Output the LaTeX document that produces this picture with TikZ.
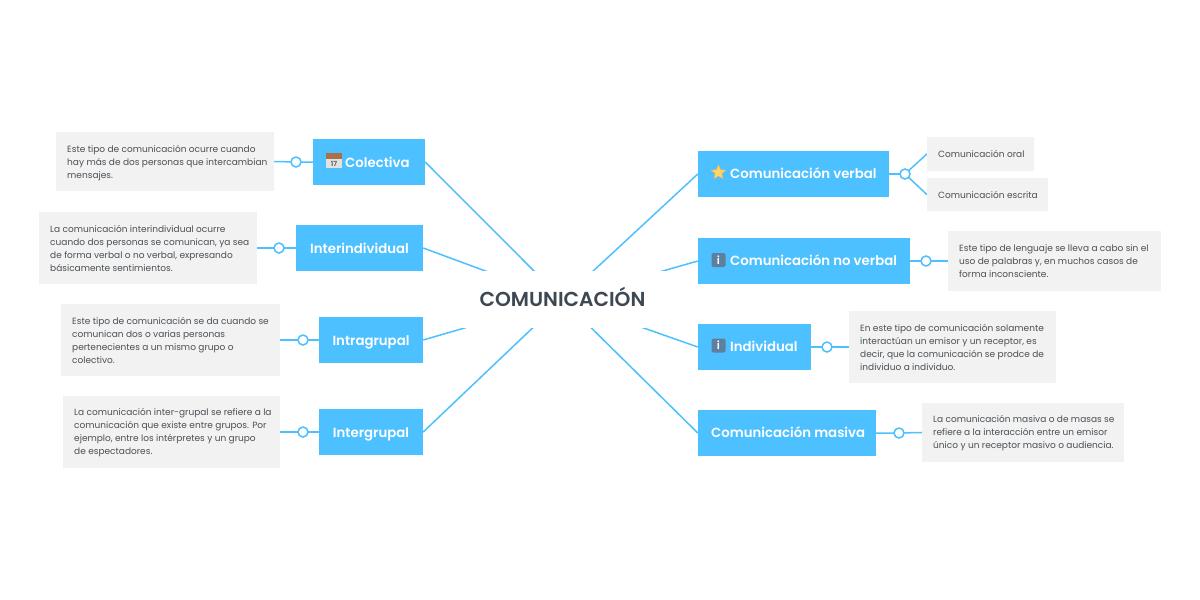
\documentclass[tikz,border=0pt]{standalone}
\usepackage{fontspec}
\setmainfont{Poppins}[BoldFont={Poppins SemiBold}]
\usetikzlibrary{shapes.geometric}
\definecolor{topic}{HTML}{4DC0FF}
\definecolor{note}{HTML}{F2F2F2}
\definecolor{ink}{HTML}{4A5055}
\definecolor{title}{HTML}{3D4852}
\definecolor{infoicon}{HTML}{5F7F9F}
\definecolor{calbody}{HTML}{E4E2DF}
\definecolor{caltop}{HTML}{A9714B}
\definecolor{staricon}{HTML}{FFD75E}
\pgfdeclarelayer{canvas}
\pgfdeclarelayer{lines}
\pgfsetlayers{canvas,lines,main}
\tikzset{
 x=1pt,y=-1pt,
 topicbox/.style={inner sep=0,text=white,anchor=base,font=\fontsize{13.3}{16}\selectfont\bfseries},
 notebox/.style={inner sep=0,text=ink,font=\fontsize{9}{13}\selectfont,align=left,anchor=west},
 link/.style={draw=topic,line width=1.5pt},
 knob/.style={circle,draw=topic,fill=white,line width=1.5pt,minimum size=10pt,inner sep=0},
}
\newcommand{\tbox}[5]{% name x1 y1 x2 y2
 \node[fill=topic,inner sep=0,minimum width={(#4-#2)*1pt},minimum height={(#5-#3)*1pt}] (#1) at ({(#2+#4)/2},{(#3+#5)/2}) {};
}
\newcommand{\nbox}[6][1]{% optional text shift, name x1 y1 x2 y2 text
 \node[fill=note,inner sep=0,minimum width={(#5-#3)*1pt},minimum height={(#6-#4)*1pt}] (#2) at ({(#3+#5)/2},{(#4+#6)/2}) {};
 \nnote{#2}{#3}{#4}{#6}{#1}%
}
\newcommand{\nnote}[5]{\def\nname{#1}\def\nx{#2}\def\ny{#3}\def\nyy{#4}\def\nd{#5}\nnotetext}
\newcommand{\nnotetext}[1]{\node[notebox] (\nname t) at (\nx+11,{(\ny+\nyy)/2+\nd}) {#1};}
\begin{document}
\begin{tikzpicture}
\useasboundingbox (0,0) rectangle (1200,600);
\begin{pgfonlayer}{canvas}
\path[fill=white] (0,0) rectangle (1200,600);
\end{pgfonlayer}
\node[fill=white,minimum width=230pt,minimum height=57pt,inner sep=0] (center) at (562.5,299.5) {};
\node[inner sep=0,anchor=base,text=title,font=\fontsize{20.2}{24}\selectfont\bfseries] (centert) at (562.5,306.5) {COMUNICACIÓN};
% topics
\tbox{col}{313}{139}{425}{185}
\tbox{int}{296}{225}{423}{271}
\tbox{gru}{319}{317}{423}{363}
\tbox{ter}{319}{409}{423}{455}
\tbox{ver}{698}{151}{889}{197}
\tbox{nov}{698}{238}{910}{284}
\tbox{ind}{698}{324}{811}{370}
\tbox{mas}{698}{410}{876}{456}
\node[topicbox,anchor=base west] (colt) at (345,167) {Colectiva};
\node[topicbox] (intt) at (359.5,253) {Interindividual};
\node[topicbox] (grut) at (371,345) {Intragrupal};
\node[topicbox] (tert) at (371,437) {Intergrupal};
\node[topicbox,anchor=base west] (vert) at (730,178.5) {Comunicación verbal};
\node[topicbox,anchor=base west] (novt) at (730,265.5) {Comunicación no verbal};
\node[topicbox,anchor=base west] (indt) at (730,351.5) {Individual};
\node[topicbox,anchor=base west] (mast) at (711,437.5) {Comunicación masiva};
% notes
\nbox[2]{ncol}{56}{132}{274}{191}
 {Este tipo de comunicación ocurre cuando\\hay más de dos personas que intercambian\\mensajes.}
\nbox[0]{nint}{39}{212}{257}{284}
 {La comunicación interindividual ocurre\\cuando dos personas se comunican, ya sea\\de forma verbal o no verbal, expresando\\básicamente sentimientos.}
\nbox[0]{ngru}{61}{304}{280}{376}
 {Este tipo de comunicación se da cuando se\\comunican dos o varias personas\\pertenecientes a un mismo grupo o\\colectivo.}
\nbox{nter}{63}{396}{280}{468}
 {La comunicación inter-grupal se refiere a la\\comunicación que existe entre grupos. Por\\ejemplo, entre los intérpretes y un grupo\\de espectadores.}
\nbox[0]{nora}{927}{137}{1034}{171}
 {Comunicación oral}
\nbox[0]{nesc}{927}{178}{1048}{211}
 {Comunicación escrita}
\nbox[0]{nnov}{948}{231}{1161}{291}
 {Este tipo de lenguaje se lleva a cabo sin el\\uso de palabras y, en muchos casos de\\forma inconsciente.}
\nbox[0]{nind}{849}{311}{1056}{383}
 {En este tipo de comunicación solamente\\interactúan un emisor y un receptor, es\\decir, que la comunicación se prodce de\\individuo a individuo.}
\nbox{nmas}{922}{403}{1124}{462}
 {La comunicación masiva o de masas se\\refiere a la interacción entre un emisor\\único y un receptor masivo o audiencia.}
% knobs
\node[knob] (kcol) at (296,162) {};
\node[knob] (kint) at (279,248) {};
\node[knob] (kgru) at (303,340) {};
\node[knob] (kter) at (303,432) {};
\node[knob] (kver) at (905,174) {};
\node[knob] (knov) at (926,261) {};
\node[knob] (kind) at (827,347) {};
\node[knob] (kmas) at (899,433) {};
% icons
\path[fill=calbody] (326,153) rectangle (342,168);
\path[fill=caltop] (326,153) rectangle (342,158.5);
\node[inner sep=0,text=black!65,font=\fontsize{7}{8}\selectfont\bfseries] (ical) at (334,163.5) {17};
\node[star,star points=5,star point ratio=2.2,fill=staricon,draw=orange!60,line width=.4pt,minimum size=15pt,inner sep=0] (istar) at (718.5,172.5) {};
\foreach \nm/\py in {inov/260,iind/345.5}{
 \node[rounded corners=2pt,fill=infoicon,minimum size=14pt,inner sep=0,text=white,font=\fontsize{11}{12}\selectfont\bfseries] (\nm) at (718.5,\py) {i};
}
% connectors
\begin{pgfonlayer}{lines}
\foreach \t in {col,int,gru,ter}{
 \draw[link] (\t.east) -- (center.center);
}
\foreach \t in {ver,nov,ind,mas}{
 \draw[link] (\t.west) -- (center.center);
}
\foreach \t/\k/\n in {col/kcol/ncol,int/kint/nint,gru/kgru/ngru,ter/kter/nter}{
 \draw[link] (\t.west) -- (\k.center) -- (\n.east);
}
\foreach \t/\k/\n in {nov/knov/nnov,ind/kind/nind,mas/kmas/nmas}{
 \draw[link] (\t.east) -- (\k.center) -- (\n.west);
}
\draw[link] (ver.east) -- (kver.center);
\draw[link] (kver.center) -- (nora.west);
\draw[link] (kver.center) -- (nesc.west);
\end{pgfonlayer}
\end{tikzpicture}
\end{document}
